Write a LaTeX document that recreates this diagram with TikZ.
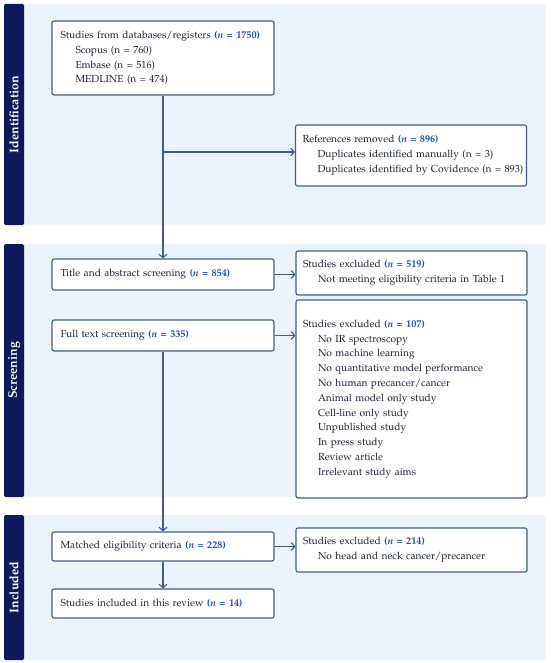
\documentclass[tikz,border=0pt]{standalone}
\usepackage[T1]{fontenc}
\usepackage{mathpazo}
\usepackage{xcolor}
\usepackage{tikz}
\usetikzlibrary{arrows.meta}
\usetikzlibrary{positioning}

\definecolor{navy}{HTML}{0C1A5B}
\definecolor{panelbg}{HTML}{EBF3FD}
\definecolor{boxline}{HTML}{3E5E87}
\definecolor{nblue}{HTML}{1D4FC4}
\definecolor{bodytext}{HTML}{1C2438}
\newcommand{\nval}[1]{{\bfseries\color{nblue}(\textit{n} = #1)}}
\newcommand{\sub}{\\\hspace*{15pt}}

\begin{document}
\begin{tikzpicture}[x=1pt,y=-1pt,
	box/.style={draw=boxline,line width=1.1pt,rounded corners=2pt,fill=white,
		align=left,inner xsep=8.5pt,inner ysep=0pt,text=bodytext,
		font=\fontsize{10.2}{14.8}\selectfont},
	leftbox/.style={box,text width=205pt},
	rightbox/.style={box,inner xsep=7pt,text width=217pt},
	sidelab/.style={rotate=90,text=white,font=\fontsize{12.5}{14}\selectfont\bfseries},
	arr/.style={draw=boxline,line width=1.1pt,-{Straight Barb[length=3.5pt,width=8pt]}}]
	\useasboundingbox (0,0) rectangle (550,663);
	% stage panels
	\fill[panelbg,rounded corners=3pt] (4,4) rectangle (546,225);
	\fill[panelbg,rounded corners=3pt] (4,244) rectangle (546,497);
	\fill[panelbg,rounded corners=3pt] (4,515) rectangle (546,660);
	\fill[navy,rounded corners=1.5pt] (4,4) rectangle (24,225);
	\fill[navy,rounded corners=1.5pt] (4,244) rectangle (24,497);
	\fill[navy,rounded corners=1.5pt] (4,515) rectangle (24,660);
	\node[sidelab] (lid) at (14,114.5) {Identification};
	\node[sidelab] (lscr) at (14,370.5) {Screening};
	\node[sidelab] (linc) at (14,587.5) {Included};
	% left column
	\node[leftbox,minimum height=74pt] (db) at (163,58) {Studies from databases/registers \nval{1750}\sub
		Scopus (n = 760)\sub Embase (n = 516)\sub MEDLINE (n = 474)};
	\node[leftbox,minimum height=31pt] (title) at (163,274.5) {Title and abstract screening \nval{854}};
	\node[leftbox,minimum height=31pt] (full) at (163,335.5) {Full text screening \nval{335}};
	\node[leftbox,minimum height=29pt] (matched) at (163,546.5) {Matched eligibility criteria \nval{228}};
	\node[leftbox,minimum height=29pt] (incl) at (163,603.5) {Studies included in this review \nval{14}};
	% right column
	\node[rightbox,minimum height=61pt] (refs) at (411,155.5) {References removed \nval{896}\sub
		Duplicates identified manually (n = 3)\sub \mbox{Duplicates identified by Covidence (n = 893)}};
	\node[rightbox,minimum height=44pt] (excla) at (411.5,273) {Studies excluded \nval{519}\sub
		Not meeting eligibility criteria in Table 1};
	\node[rightbox,minimum height=198pt] (exclb) at (411.5,399) {Studies excluded \nval{107}\sub
		No IR spectroscopy\sub No machine learning\sub No quantitative model performance\sub
		No human precancer/cancer\sub Animal model only study\sub Cell-line only study\sub
		Unpublished study\sub In press study\sub Review article\sub Irrelevant study aims};
	\node[rightbox,minimum height=44pt] (exclc) at (411.5,550) {Studies excluded \nval{214}\sub
		No head and neck cancer/precancer};
	% connectors
	\coordinate (branch) at (163,152);
	\draw[arr] (db.south) -- (title.north);
	\draw[arr] (branch) -- (branch -| refs.west);
	\draw[arr] (title.east) -- (title.east -| excla.west);
	\draw[arr] (full.east) -- (full.east -| exclb.west);
	\draw[arr] (full.south) -- (matched.north);
	\draw[arr] (matched.east) -- (matched.east -| exclc.west);
	\draw[arr] (matched.south) -- (incl.north);
\end{tikzpicture}
\end{document}
